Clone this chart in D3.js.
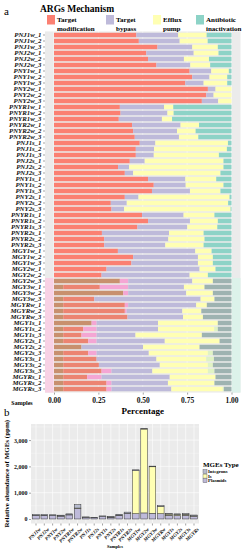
<!DOCTYPE html>
<html>
<head>
<meta charset="utf-8">
<script src="https://cdn.jsdelivr.net/npm/d3@7"></script>
<style>
  body { margin: 0; background: #fff; }
  svg { display: block; font-family: "Liberation Serif", "DejaVu Serif", serif; }
</style>
</head>
<body>
<div id="chart"></div>
<script>
// ---- panel a data (proportions per sample) ----
const samplesA = [
  "PNJ1w_1","PNJ1w_2","PNJ1w_3","PNJ2w_1","PNJ2w_2","PNJ2w_3",
  "PNY1w_1","PNY1w_2","PNY1w_3","PNY2w_1","PNY2w_2","PNY2w_3",
  "PNYR1w_1","PNYR1w_2","PNYR1w_3","PNYR2w_1","PNYR2w_2","PNYR2w_3",
  "PNJ1s_1","PNJ1s_2","PNJ1s_3","PNJ2s_1","PNJ2s_2","PNJ2s_3",
  "PNY1s_1","PNY1s_2","PNY1s_3","PNY2s_1","PNY2s_2","PNY2s_3",
  "PNYR1s_1","PNYR1s_2","PNYR1s_3","PNYR2s_1","PNYR2s_2","PNYR2s_3",
  "MGY1w_1","MGY1w_2","MGY1w_3","MGY2w_1","MGY2w_2","MGY2w_3",
  "MGY3w_1","MGY3w_2","MGY3w_3","MGYRw_1","MGYRw_2","MGYRw_3",
  "MGY1s_1","MGY1s_2","MGY1s_3","MGY2s_1","MGY2s_2","MGY2s_3",
  "MGY3s_1","MGY3s_2","MGY3s_3","MGYRs_1","MGYRs_2","MGYRs_3"
];
const tanTint = [
  0,0,0,0,0,0, 0,0,0,0,0,0, 0,0,0,0,0,0, 0,0,0,0,0,0, 0,0,0,0,0,0, 0,0,0,0,0,0,
  0,0,0,0,0,.371, .052,.39,.052,.052,.052,.052, .212,.052,.052,.052,.155,.052, .052,.052,.052,.052,.052,.052
];
const targetModification = [
  .464,.478,.583,.52,.53,.577, .764,.779,.74,.867,.858,.833,
  .371,.375,.365,.44,.446,.455, .483,.461,.461,.427,.361,.399,
  .53,.562,.552,.399,.32,.324, .496,.53,.47,.27,.283,.283,
  .36,.446,.436,.296,.268,0, .206,0,.175,.347,.347,.362,
  0,.113,.103,.141,0,.141, .188,.201,.216,.135,.244,.244
];
const pinkTint = [
  0,0,0,0,0,0, 0,0,0,0,0,0, 0,0,0,0,0,0, 0,0,0,0,0,0, 0,0,0,0,0,0, 0,0,0,0,0,0,
  0,0,0,0,0,.047, .16,.028,0,.019,.01,0, .028,.075,.085,.047,0,.047, 0,0,.056,.081,.028,.028
];
const targetBypass = [
  .236,.23,.196,.267,.202,.191, .122,.097,.103,.043,.041,.092,
  .249,.264,.243,.273,.247,.249, .088,.103,.101,.084,.062,.047,
  .21,.18,.214,.077,.09,.071, .234,.236,.281,.378,.361,.344,
  .436,.365,.375,.524,.496,.361, .314,.327,.599,.383,.314,.313,
  .346,.346,.219,.384,.347,.294, .337,.343,.23,.384,.318,.337
];
const effluxPump = [
  .16,.158,.144,.14,.141,.112, .099,.10,.133,.09,.101,.075,
  .052,.035,.057,.104,.105,.109, .409,.41,.367,.444,.532,.492,
  .174,.213,.172,.513,.571,.60, .174,.157,.169,.195,.204,.216,
  .092,.084,.084,.09,.103,.116, .116,.15,.078,.06,.107,.112,
  .337,.317,.374,.309,.318,.333, .281,.271,.313,.258,.262,.29
];
const greenTint = [
  0,0,0,0,0,0, 0,0,0,0,0,0, 0,0,0,0,0,0, 0,0,0,0,0,0, 0,0,0,0,0,0, 0,0,0,0,0,0,
  0,0,0,0,0,0, 0,0,0,0,0,0, 0,.02,0,0,0,.028, .043,.028,.037,0,0,.006
];
const antibioticInactivation = [
  .14,.134,.077,.073,.127,.12, .015,.024,.024,0,0,0,
  .328,.326,.335,.183,.202,.187, .02,.026,.071,.045,.045,.062,
  .086,.045,.062,.011,.019,.005, .096,.077,.08,.157,.152,.157,
  .112,.105,.105,.09,.133,.105, .152,.105,.096,.139,.17,.161,
  .077,.077,.167,.067,.18,.105, .099,.105,.096,.09,.096,.043
];
const mechanisms = ["Target modification", "Target bypass", "Efflux pump", "Antibiotic inactivation"];
const mechanismLabels = [["Target", "modification"], ["Target", "bypass"], ["Efflux", "pump"], ["Antibiotic", "inactivation"]];
const xTicksA = [0, 0.25, 0.5, 0.75, 1];
const tintedFrom = 41; // rows from MGY2w_3 down carry the tinted overlay

// ---- panel b data (ppm) ----
const samplesB = ["PNJ1w","PNJ2w","PNY1w","PNY2w","PNYR1w","PNYR2w","PNJ1s","PNJ2s","PNY1s","PNY2s",
  "PNYR1s","PNYR2s","MGY1w","MGY2w","MGY3w","MGYRw","MGY1s","MGY2s","MGY3s","MGYRs"];
const plasmids  = [130,135,125,110,155,400,55,45,85,65,140,200,200,230,215,200,140,130,140,105];
const isElements = [5,5,5,5,5,15,5,5,5,5,5,10,1640,3190,1770,280,45,45,40,20];
const integrons = [35,30,30,30,35,130,20,15,27,20,35,50,30,20,25,25,25,20,25,25];
const mgeTypes = ["Integrons", "Is", "Plasmids"];
const yTicksB = [0, 1000, 2000, 3000];

const W = 244, H = 550;
const svg = d3.select("#chart").append("svg").attr("width", W).attr("height", H);

// ================= panel a =================
const keysA = ["tan", "Target modification", "pink", "Target bypass", "Efflux pump", "green", "Antibiotic inactivation"];
const rowsA = samplesA.map((s, i) => ({
  sample: s, idx: i,
  "tan": tanTint[i], "Target modification": targetModification[i], "pink": pinkTint[i],
  "Target bypass": targetBypass[i], "Efflux pump": effluxPump[i], "green": greenTint[i],
  "Antibiotic inactivation": antibioticInactivation[i]
}));
const baseColor = {
  "Target modification": "#FB8072", "Target bypass": "#BEBADA",
  "Efflux pump": "#FFFFB3", "Antibiotic inactivation": "#8DD3C7",
  "tan": "#C8906E", "pink": "#F4A6D4", "green": "#E0F3C4"
};
const tintColor = {
  "Target modification": "#EC8472", "Antibiotic inactivation": "#9EB3B1"
};
const fillA = (key, i) => (i >= tintedFrom && tintColor[key]) ? tintColor[key] : baseColor[key];

const panelA = {left: 45, right: 240.5, top: 31.4, bottom: 392.6};
const xA = d3.scaleLinear().domain([0, 1]).range([54, 231.5]);
const yA = d3.scaleBand().domain(samplesA).range([32, 392]).paddingInner(0.25).paddingOuter(0.125);

svg.append("rect")
  .attr("x", panelA.left).attr("y", panelA.top)
  .attr("width", panelA.right - panelA.left).attr("height", panelA.bottom - panelA.top)
  .attr("fill", "#EBEBEB");

// tinted strips beside the overlay rows
const stripTop = yA(samplesA[tintedFrom]) - yA.step() * 0.125;
svg.append("rect")
  .attr("x", panelA.left).attr("y", stripTop)
  .attr("width", xA(0) - panelA.left).attr("height", panelA.bottom - stripTop)
  .attr("fill", "#F8D2E5");
svg.append("rect")
  .attr("x", xA(1)).attr("y", stripTop)
  .attr("width", panelA.right - xA(1)).attr("height", panelA.bottom - stripTop)
  .attr("fill", "#DCF2EA");

// grid
svg.append("g").selectAll("line")
  .data(xTicksA)
  .join("line")
  .attr("x1", d => xA(d)).attr("x2", d => xA(d))
  .attr("y1", panelA.top).attr("y2", panelA.bottom)
  .attr("stroke", "#fff").attr("stroke-width", 0.6);

const stackA = d3.stack().keys(keysA)(rowsA);
svg.append("g").selectAll("g")
  .data(stackA)
  .join("g")
  .selectAll("rect")
  .data(d => d.map(p => ({key: d.key, p})))
  .join("rect")
  .attr("x", d => xA(d.p[0]))
  .attr("y", d => yA(d.p.data.sample))
  .attr("width", d => Math.max(0, xA(d.p[1]) - xA(d.p[0])))
  .attr("height", yA.bandwidth())
  .attr("fill", d => fillA(d.key, d.p.data.idx));

// y axis (sample names)
const yAxisA = svg.append("g").attr("transform", `translate(${panelA.left},0)`)
  .call(d3.axisLeft(yA).tickSize(2).tickPadding(1.5));
yAxisA.select(".domain").remove();
yAxisA.selectAll(".tick line").attr("stroke", "#444").attr("stroke-width", 0.5);
yAxisA.selectAll(".tick text")
  .attr("font-family", "Liberation Serif").attr("font-size", 6.8)
  .attr("font-weight", "bold").attr("font-style", "italic").attr("fill", "#111");

// x axis
const xAxisA = svg.append("g").attr("transform", `translate(0,${panelA.bottom})`)
  .call(d3.axisBottom(xA).tickValues(xTicksA).tickFormat(d3.format(".2f")).tickSize(2).tickPadding(3));
xAxisA.select(".domain").remove();
xAxisA.selectAll(".tick line").attr("stroke", "#444").attr("stroke-width", 0.5);
xAxisA.selectAll(".tick text")
  .attr("font-family", "Liberation Serif").attr("font-size", 7.5)
  .attr("font-weight", "bold").attr("fill", "#111");

svg.append("text").attr("x", 22).attr("y", 405).attr("text-anchor", "middle")
  .attr("font-size", 6).attr("font-weight", "bold").text("Samples");
svg.append("text").attr("x", xA(0.5)).attr("y", 413.5).attr("text-anchor", "middle")
  .attr("font-size", 9).attr("font-weight", "bold").text("Percentage");

// legend a
svg.append("text").attr("x", 4).attr("y", 15).attr("font-size", 11).text("a");
svg.append("text").attr("x", 40).attr("y", 12).attr("font-size", 9.5).attr("font-weight", "bold")
  .text("ARGs Mechanism");
const legX = [47, 106, 153, 196];
const legA = svg.append("g").selectAll("g")
  .data(mechanisms)
  .join("g")
  .attr("transform", (d, i) => `translate(${legX[i]},15)`);
legA.append("rect").attr("width", 8).attr("height", 9.5).attr("fill", d => baseColor[d]);
legA.append("text").attr("x", 10).attr("y", 1.5).attr("font-size", 7).attr("font-weight", "bold")
  .selectAll("tspan")
  .data((d, i) => mechanismLabels[i])
  .join("tspan")
  .attr("x", 10).attr("dy", (d, j) => j === 0 ? 5.5 : 8.5)
  .text(d => d);

// ================= panel b =================
svg.append("text").attr("x", 4).attr("y", 416).attr("font-size", 11).text("b");

const panelB = {left: 31, right: 199, top: 424, bottom: 523.5};
const maxB = d3.max(samplesB, (s, i) => plasmids[i] + isElements[i] + integrons[i]);
const yB = d3.scaleLinear().domain([-0.05 * maxB, 1.05 * maxB]).range([panelB.bottom, panelB.top]);
const xB = d3.scaleBand().domain(samplesB).range([panelB.left, panelB.right]).paddingInner(0.2).paddingOuter(0.2);

svg.append("rect")
  .attr("x", panelB.left).attr("y", panelB.top)
  .attr("width", panelB.right - panelB.left).attr("height", panelB.bottom - panelB.top)
  .attr("fill", "#EBEBEB");
const gridB = svg.append("g");
gridB.selectAll(".minor")
  .data(d3.range(500, 3600, 1000))
  .join("line").attr("class", "minor")
  .attr("x1", panelB.left).attr("x2", panelB.right)
  .attr("y1", d => yB(d)).attr("y2", d => yB(d))
  .attr("stroke", "#fff").attr("stroke-width", 0.3);
gridB.selectAll(".major")
  .data(yTicksB)
  .join("line").attr("class", "major")
  .attr("x1", panelB.left).attr("x2", panelB.right)
  .attr("y1", d => yB(d)).attr("y2", d => yB(d))
  .attr("stroke", "#fff").attr("stroke-width", 0.6);
gridB.selectAll(".vert")
  .data(samplesB)
  .join("line").attr("class", "vert")
  .attr("x1", d => xB(d) + xB.bandwidth() / 2).attr("x2", d => xB(d) + xB.bandwidth() / 2)
  .attr("y1", panelB.top).attr("y2", panelB.bottom)
  .attr("stroke", "#fff").attr("stroke-width", 0.6);

const rowsB = samplesB.map((s, i) => ({sample: s, Plasmids: plasmids[i], Is: isElements[i], Integrons: integrons[i]}));
const colorB = {Integrons: "#B7BCCF", Is: "#FFFFB3", Plasmids: "#BEBADA"};
const stackB = d3.stack().keys(["Plasmids", "Is", "Integrons"])(rowsB);
svg.append("g").selectAll("g")
  .data(stackB)
  .join("g")
  .attr("fill", d => colorB[d.key])
  .selectAll("rect")
  .data(d => d)
  .join("rect")
  .attr("x", d => xB(d.data.sample))
  .attr("y", d => yB(d[1]))
  .attr("width", xB.bandwidth())
  .attr("height", d => yB(d[0]) - yB(d[1]))
  .attr("stroke", "#333").attr("stroke-width", 0.5);

const yAxisB = svg.append("g").attr("transform", `translate(${panelB.left},0)`)
  .call(d3.axisLeft(yB).tickValues(yTicksB).tickSize(2).tickPadding(1.5));
yAxisB.select(".domain").remove();
yAxisB.selectAll(".tick line").attr("stroke", "#444").attr("stroke-width", 0.5);
yAxisB.selectAll(".tick text").attr("font-family", "Liberation Serif").attr("font-size", 6)
  .attr("font-weight", "bold").attr("fill", "#111");

const xAxisB = svg.append("g").attr("transform", `translate(0,${panelB.bottom})`)
  .call(d3.axisBottom(xB).tickSize(2).tickPadding(1));
xAxisB.select(".domain").remove();
xAxisB.selectAll(".tick line").attr("stroke", "#444").attr("stroke-width", 0.5);
xAxisB.selectAll(".tick text")
  .attr("font-family", "Liberation Serif").attr("font-size", 5)
  .attr("font-weight", "bold").attr("font-style", "italic").attr("fill", "#111")
  .attr("text-anchor", "end").attr("dy", "0.3em")
  .attr("transform", "translate(2,3) rotate(-45)");

svg.append("text").attr("transform", `translate(9,${(panelB.top + panelB.bottom) / 2}) rotate(-90)`)
  .attr("text-anchor", "middle").attr("font-size", 7).attr("font-weight", "bold")
  .text("Relative abundance of MGEs (ppm)");
svg.append("text").attr("x", (panelB.left + panelB.right) / 2).attr("y", 547.5).attr("text-anchor", "middle")
  .attr("font-size", 4.5).attr("font-weight", "bold").text("Samples");

// legend b
svg.append("text").attr("x", 203).attr("y", 467).attr("font-size", 7).attr("font-weight", "bold")
  .text("MGEs Type");
const legB = svg.append("g").selectAll("g")
  .data(mgeTypes)
  .join("g")
  .attr("transform", (d, i) => `translate(203,${469.5 + i * 4.6})`);
legB.append("rect").attr("width", 4).attr("height", 4).attr("fill", d => colorB[d])
  .attr("stroke", "#555").attr("stroke-width", 0.4);
legB.append("text").attr("x", 5).attr("y", 3.6).attr("font-size", 4.8).attr("font-weight", "bold").text(d => d);
</script>
</body>
</html>
